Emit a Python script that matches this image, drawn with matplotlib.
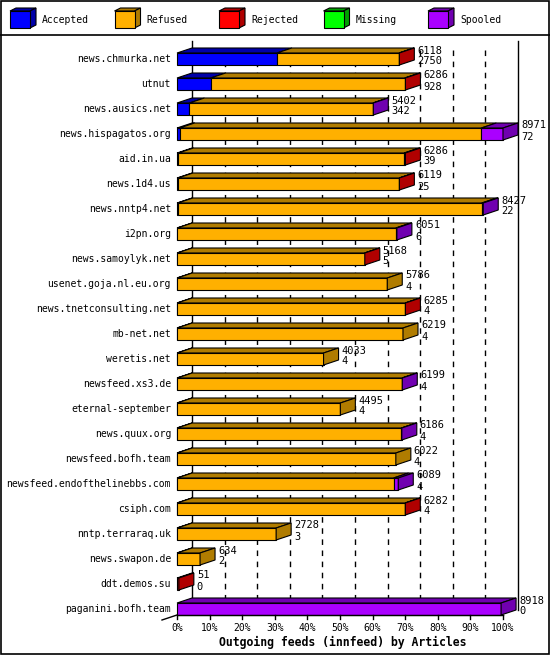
import matplotlib
matplotlib.use("Agg")
import matplotlib.pyplot as plt
from matplotlib.patches import Polygon, Rectangle

# innfeed outgoing feeds, articles per peer
hosts = ["news.chmurka.net", "utnut", "news.ausics.net", "news.hispagatos.org",
         "aid.in.ua", "news.1d4.us", "news.nntp4.net", "i2pn.org",
         "news.samoylyk.net", "usenet.goja.nl.eu.org", "news.tnetconsulting.net",
         "mb-net.net", "weretis.net", "newsfeed.xs3.de", "eternal-september",
         "news.quux.org", "newsfeed.bofh.team", "newsfeed.endofthelinebbs.com",
         "csiph.com", "nntp.terraraq.uk", "news.swapon.de", "ddt.demos.su",
         "paganini.bofh.team"]
totals = [6118, 6286, 5402, 8971, 6286, 6119, 8427, 6051, 5168, 5786, 6285,
          6219, 4033, 6199, 4495, 6186, 6022, 6089, 6282, 2728, 634, 51, 8918]
accepted = [2750, 928, 342, 72, 39, 25, 22, 6, 5, 4, 4, 4, 4, 4, 4, 4, 4, 4, 4, 3, 2, 0, 0]
rejected = [8, 20, 0, 0, 35, 5, 0, 0, 3, 0, 6, 0, 0, 0, 0, 0, 0, 0, 5, 0, 0, 51, 0]
missing = [0] * 23
spooled = [0, 0, 10, 597, 0, 0, 40, 30, 0, 0, 0, 0, 0, 8, 0, 10, 0, 130, 0, 0, 0, 0, 8918]
refused = [t - a - r - m - s for t, a, r, m, s in zip(totals, accepted, rejected, missing, spooled)]

series = ["Accepted", "Refused", "Rejected", "Missing", "Spooled"]
front = ["#0000FF", "#FFB000", "#FF0000", "#00FF00", "#AA00FF"]
dark = ["#0000A8", "#B07C00", "#B00000", "#00A000", "#7000B0"]
xticks = ["0%", "10%", "20%", "30%", "40%", "50%", "60%", "70%", "80%", "90%", "100%"]
title = "Outgoing feeds (innfeed) by Articles"

W, H = 550, 655
fig = plt.figure(figsize=(W / 100, H / 100), dpi=100)
mono = "DejaVu Sans Mono"

# overlay in pixel units: border + legend
bg = fig.add_axes([0, 0, 1, 1])
bg.set_xlim(0, W)
bg.set_ylim(H, 0)
bg.axis("off")
bg.add_patch(Rectangle((0.5, 0.5), W - 1.5, H - 1.5, fill=False, ec="black", lw=1.2))
bg.plot([0, W], [35, 35], color="black", lw=1.2)
for i, name in enumerate(series):
    x0 = 10 + i * 104.5
    bg.add_patch(Polygon([(x0, 11), (x0 + 6, 8), (x0 + 26, 8), (x0 + 20, 11)],
                         fc=dark[i], ec="black", lw=0.8))
    bg.add_patch(Polygon([(x0 + 20, 11), (x0 + 26, 8), (x0 + 26, 25), (x0 + 20, 28)],
                         fc=dark[i], ec="black", lw=0.8))
    bg.add_patch(Rectangle((x0, 11), 20, 17, fc=front[i], ec="black", lw=0.8))
    bg.text(x0 + 32, 20, name, family=mono, fontsize=7, va="center", ha="left")

# chart axes: 0..100% at px 177..503, rows every 25px starting at y=59
vmax = max(totals)
n = len(hosts)
left, right = 177, 503
top, bottom = 59 - 12.5, 59 + 25 * (n - 1) + 12.5
ax = fig.add_axes([left / W, 1 - bottom / H, (right - left) / W, (bottom - top) / H])
ax.set_xlim(0, vmax)
ax.set_ylim(n - 0.5, -0.5)
ax.axis("off")
ax.patch.set_alpha(0)

px = vmax / (right - left)      # articles per pixel
dx, dy = 15 * px, 5 / 25        # 3D depth
h = 12 / 25                     # bar thickness
floor = (n - 1) + h / 2         # front baseline row

# back wall: axis line, dashed grid, right edge
ax.plot([dx, dx], [-0.74, floor - dy], color="black", lw=1, clip_on=False, zorder=1)
for k in range(1, 10):
    xx = vmax * k / 10 + dx
    ax.plot([xx, xx], [-0.36, floor - dy], color="black", lw=1,
            ls=(0, (4, 4)), clip_on=False, zorder=1)
ax.plot([vmax + dx, vmax + dx], [-0.74, floor - dy], color="black", lw=1, clip_on=False, zorder=1)

# floor edges
ax.plot([-dx, dx], [floor + dy, floor - dy], color="black", lw=1, clip_on=False, zorder=1)
ax.plot([0, vmax], [floor, floor], color="black", lw=1, clip_on=False, zorder=3)
for k in range(11):
    xx = vmax * k / 10
    ax.plot([xx, xx], [floor, floor + 4 / 25], color="black", lw=1, clip_on=False, zorder=3)
    ax.text(xx, floor + 0.52, xticks[k], family=mono, fontsize=7, ha="center", va="center")

ax.text((vmax + dx) / 2 - 5 * px, floor + 1.08, title, family=mono, fontsize=8.3,
        fontweight="bold", ha="center", va="center")

data = [accepted, refused, rejected, missing, spooled]
for r in range(n):
    yt, yb = r - h / 2, r + h / 2
    x = 0
    last = 0
    for s in range(len(series)):
        v = data[s][r]
        if v <= 0:
            continue
        x1 = x + v
        ax.add_patch(Polygon([(x, yt), (x1, yt), (x1 + dx, yt - dy), (x + dx, yt - dy)],
                             fc=dark[s], ec="black", lw=0.8, clip_on=False, zorder=2))
        ax.add_patch(Rectangle((x, yt), v, h, fc=front[s], ec="black", lw=0.8,
                               clip_on=False, zorder=2))
        x = x1
        last = s
    ax.add_patch(Polygon([(x, yt), (x + dx, yt - dy), (x + dx, yb - dy), (x, yb)],
                         fc=dark[last], ec="black", lw=0.8, clip_on=False, zorder=2))
    tx = x + dx + 3 * px
    ax.text(tx, r - 0.34, str(totals[r]), family=mono, fontsize=7.5, ha="left", va="center")
    ax.text(tx, r + 0.1, str(accepted[r]), family=mono, fontsize=7.5, ha="left", va="center")
    ax.text(-6 * px, r, hosts[r], family=mono, fontsize=7, ha="right", va="center")

fig.savefig("out.png", dpi=100)
